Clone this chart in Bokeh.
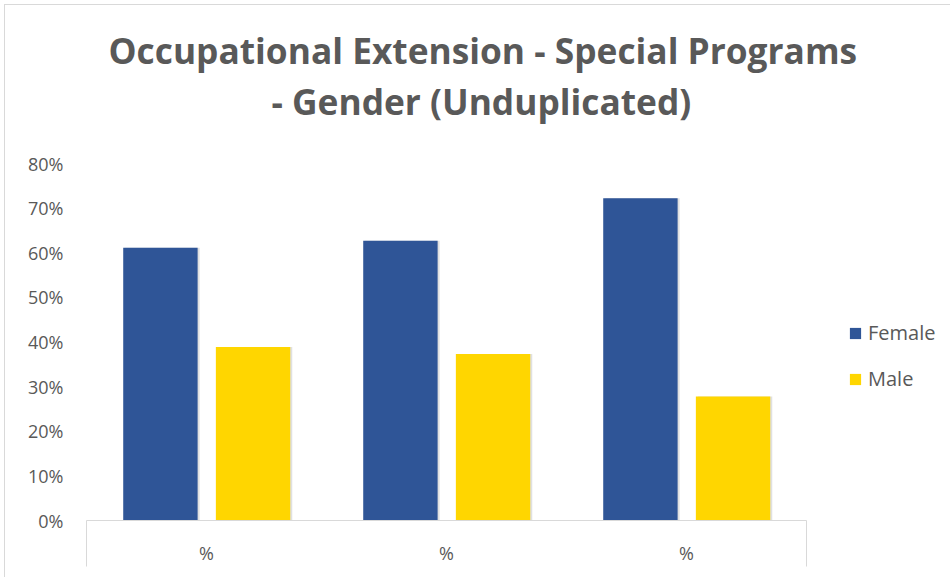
from bokeh.plotting import figure
from bokeh.models import (FixedTicker, Legend, LegendItem, Title, ColumnDataSource,
                          NumeralTickFormatter, CustomJSTickFormatter)
from bokeh.embed import file_html
from bokeh.resources import INLINE

# ---- data ----
categories = ["%", "%", "%"]
female = [0.611, 0.627, 0.722]
male = [0.389, 0.373, 0.278]
series_names = ["Female", "Male"]
series_colors = ["#2F5597", "#FFD600"]
y_ticks = [0.0, 0.1, 0.2, 0.3, 0.4, 0.5, 0.6, 0.7, 0.8]
title_lines = ["Occupational Extension - Special Programs", "- Gender (Unduplicated)"]

TEXT = "#595959"
GRID = "#D9D9D9"
FONT = "Open Sans"

n = len(categories)
centers = [i + 0.5 for i in range(n)]
src = ColumnDataSource(dict(
    xf=[c - 0.192 for c in centers],
    xm=[c + 0.194 for c in centers],
    female=female, male=male,
))

# frame spans to the right edge so the legend sits inside it; axis bounded to categories
p = figure(width=946, height=573, x_range=(0, n * 865 / 720), y_range=(0, 0.8874),
           output_backend="svg", toolbar_location=None, title=None,
           min_border_left=81, min_border_right=0, min_border_top=119, min_border_bottom=58)
p.styles = {"border-left": "1px solid #D9D9D9", "border-top": "1px solid #D9D9D9",
            "margin-left": "4px", "margin-top": "4px"}
p.background_fill_color = "white"
p.border_fill_color = "white"
p.outline_line_color = None
p.xgrid.visible = False
p.ygrid.visible = False

bw = 0.31
sh_dx = 2.0 / 240
p.vbar(x=[x + sh_dx for x in src.data["xf"]], top=female, width=bw, bottom=0,
       fill_color="black", fill_alpha=0.12, line_color=None)
p.vbar(x=[x + sh_dx for x in src.data["xm"]], top=male, width=bw, bottom=0,
       fill_color="black", fill_alpha=0.12, line_color=None)

rf = p.vbar(x="xf", top="female", width=bw, source=src, fill_color=series_colors[0],
            line_color=None)
rm = p.vbar(x="xm", top="male", width=bw, source=src, fill_color=series_colors[1],
            line_color=None)

# x axis
xa = p.xaxis[0]
xa.bounds = (0, n)
xa.ticker = FixedTicker(ticks=centers, minor_ticks=[0, n])
xa.formatter = CustomJSTickFormatter(args=dict(labels=categories),
                                     code="return labels[Math.floor(tick)];")
xa.axis_line_color = GRID
xa.major_tick_out = 0
xa.major_tick_in = 0
xa.minor_tick_out = 46
xa.minor_tick_in = 0
xa.minor_tick_line_color = GRID
xa.major_label_standoff = -26
xa.major_label_text_font = FONT
xa.major_label_text_font_size = "18px"
xa.major_label_text_color = TEXT

# y axis
ya = p.yaxis[0]
ya.ticker = FixedTicker(ticks=y_ticks)
ya.formatter = NumeralTickFormatter(format="0%")
ya.axis_line_color = None
ya.major_tick_out = 0
ya.major_tick_in = 0
ya.minor_tick_out = 0
ya.minor_tick_in = 0
ya.major_label_standoff = 23
ya.major_label_text_font = FONT
ya.major_label_text_font_size = "18px"
ya.major_label_text_color = TEXT

# legend
legend = Legend(items=[LegendItem(label=series_names[0], renderers=[rf]),
                       LegendItem(label=series_names[1], renderers=[rm])],
                location=(762, 128), orientation="vertical",
                border_line_color=None, background_fill_alpha=0,
                padding=0, margin=0, spacing=19,
                glyph_width=14, glyph_height=14, label_height=27, label_standoff=6,
                label_text_font=FONT, label_text_font_size="20px", label_text_color=TEXT)
p.add_layout(legend, "center")

# titles (closest to plot first)
t2 = Title(text=title_lines[1], align="left", offset=185, standoff=0,
           text_font=FONT, text_font_style="bold", text_font_size="35.3px", text_color=TEXT)
t1 = Title(text=title_lines[0], align="left", offset=22, standoff=1,
           text_font=FONT, text_font_style="bold", text_font_size="35.3px", text_color=TEXT)
p.add_layout(t2, "above")
p.add_layout(t1, "above")

open("out.html", "w").write(file_html(p, INLINE))
